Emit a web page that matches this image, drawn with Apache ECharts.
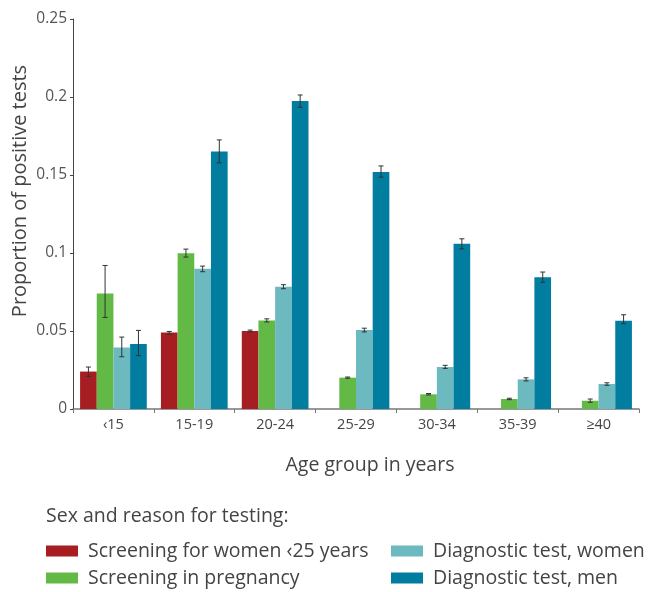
<!DOCTYPE html>
<html>
<head>
<meta charset="utf-8">
<script src="https://cdn.jsdelivr.net/npm/echarts@6/dist/echarts.min.js"></script>
<style>
html,body{margin:0;padding:0;background:#fff;}
#chart{width:650px;height:592px;}
</style>
</head>
<body>
<div id="chart"></div>
<script>
var categories = ['\u203915', '15-19', '20-24', '25-29', '30-34', '35-39', '\u226540'];
var seriesNames = ['Screening for women \u203925 years', 'Screening in pregnancy', 'Diagnostic test, women', 'Diagnostic test, men'];
var seriesColors = ['#a61d22', '#62b946', '#6cb9bf', '#007d9f'];

var screenWomen   = [0.024, 0.049, 0.050, null, null, null, null];
var screenWomenLo = [0.0209, 0.0478, 0.0494, null, null, null, null];
var screenWomenHi = [0.0269, 0.0497, 0.0506, null, null, null, null];

var screenPreg   = [0.074, 0.0998, 0.0568, 0.0201, 0.0094, 0.0064, 0.0053];
var screenPregLo = [0.0587, 0.0974, 0.0558, 0.0197, 0.0090, 0.0060, 0.0043];
var screenPregHi = [0.0920, 0.1025, 0.0578, 0.0205, 0.0099, 0.0069, 0.0064];

var diagWomen   = [0.0395, 0.0899, 0.0784, 0.0506, 0.0269, 0.0190, 0.0160];
var diagWomenLo = [0.0335, 0.0880, 0.0771, 0.0494, 0.0260, 0.0180, 0.0152];
var diagWomenHi = [0.0461, 0.0916, 0.0797, 0.0518, 0.0280, 0.0200, 0.0168];

var diagMen   = [0.0416, 0.1650, 0.1975, 0.1520, 0.1059, 0.0845, 0.0566];
var diagMenLo = [0.0342, 0.1578, 0.1934, 0.1486, 0.1027, 0.0812, 0.0547];
var diagMenHi = [0.0504, 0.1725, 0.2013, 0.1558, 0.1091, 0.0878, 0.0604];

var values = [screenWomen, screenPreg, diagWomen, diagMen];
var lows = [screenWomenLo, screenPregLo, diagWomenLo, diagMenLo];
var highs = [screenWomenHi, screenPregHi, diagWomenHi, diagMenHi];

var FONT = '"Open Sans", "DejaVu Sans", sans-serif';
var CAT_GAP = 0.175;

var errData = [];
for (var s = 0; s < 4; s++) {
  for (var c = 0; c < categories.length; c++) {
    if (lows[s][c] != null) errData.push([c, s, lows[s][c], highs[s][c]]);
  }
}

var series = [];
for (var i = 0; i < 4; i++) {
  series.push({
    name: seriesNames[i],
    type: 'bar',
    data: values[i],
    barGap: '0%',
    barCategoryGap: (CAT_GAP * 100) + '%',
    itemStyle: { color: seriesColors[i] },
    emphasis: { disabled: true }
  });
}
series.push({
  type: 'custom',
  name: 'errors',
  data: errData,
  z: 10,
  encode: { x: 0, y: [2, 3] },
  renderItem: function (params, api) {
    var c = api.value(0), s = api.value(1);
    var band = api.size([1, 0])[0];
    var bw = band * (1 - CAT_GAP) / 4;
    var off = (s - 1.5) * bw;
    var lo = api.coord([c, api.value(2)]);
    var hi = api.coord([c, api.value(3)]);
    var x = lo[0] + off;
    var hw = 2.5;
    var st = { stroke: '#333', lineWidth: 1 };
    return {
      type: 'group',
      children: [
        { type: 'line', shape: { x1: x, y1: lo[1], x2: x, y2: hi[1] }, style: st },
        { type: 'line', shape: { x1: x - hw, y1: lo[1], x2: x + hw, y2: lo[1] }, style: st },
        { type: 'line', shape: { x1: x - hw, y1: hi[1], x2: x + hw, y2: hi[1] }, style: st }
      ]
    };
  }
});

function legendCfg(left, names) {
  return {
    orient: 'vertical',
    left: left,
    top: 541,
    height: 60,
    padding: 0,
    itemWidth: 32,
    itemHeight: 11,
    itemGap: 7,
    icon: 'rect',
    data: names,
    textStyle: { color: '#444', fontSize: 19.5, lineHeight: 20, padding: [0, 0, 0, 5], fontFamily: FONT }
  };
}

var chart = echarts.init(document.getElementById('chart'), null, { renderer: 'canvas' });
chart.setOption({
  backgroundColor: '#ffffff',
  animation: false,
  textStyle: { fontFamily: FONT },
  grid: { left: 73, right: 11, top: 19, bottom: 183, containLabel: false },
  xAxis: {
    type: 'category',
    data: categories,
    axisLine: { lineStyle: { color: '#777', width: 1.5 } },
    axisTick: { show: true, length: 4, alignWithLabel: false, lineStyle: { color: '#777' } },
    axisLabel: { color: '#444', fontSize: 14.5, margin: 8, fontFamily: FONT }
  },
  yAxis: {
    type: 'value',
    min: 0,
    max: 0.25,
    interval: 0.05,
    splitLine: { show: false },
    axisLine: { show: true, lineStyle: { color: '#444', width: 1 } },
    axisTick: { show: true, length: 3, lineStyle: { color: '#444' } },
    axisLabel: { color: '#555', fontSize: 15.5, margin: 6, fontFamily: FONT }
  },
  legend: [
    legendCfg(46, [seriesNames[0], seriesNames[1]]),
    legendCfg(391, [seriesNames[2], seriesNames[3]])
  ],
  graphic: [
    {
      type: 'text',
      x: 20, y: 191,
      rotation: Math.PI / 2,
      style: { text: 'Proportion of positive tests', fill: '#444', font: '20px ' + FONT, textAlign: 'center', textVerticalAlign: 'middle' }
    },
    {
      type: 'text',
      x: 370, y: 465,
      style: { text: 'Age group in years', fill: '#444', font: '19.5px ' + FONT, textAlign: 'center', textVerticalAlign: 'middle' }
    },
    {
      type: 'text',
      x: 46, y: 516,
      style: { text: 'Sex and reason for testing:', fill: '#444', font: '19.5px ' + FONT, textAlign: 'left', textVerticalAlign: 'middle' }
    }
  ],
  series: series
});
</script>
</body>
</html>
